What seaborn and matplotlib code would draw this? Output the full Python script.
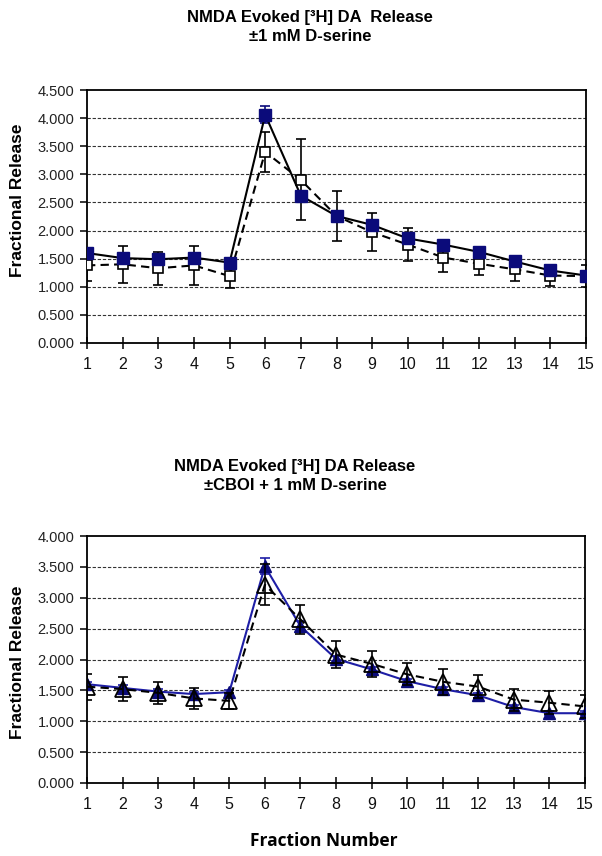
import numpy as np
import pandas as pd
import matplotlib
matplotlib.use("Agg")
import matplotlib.pyplot as plt
import seaborn as sns

sns.set_theme(style="white")
plt.rcParams['font.family'] = ['Liberation Sans', 'DejaVu Sans']
plt.rcParams['text.color'] = 'black'
plt.rcParams['axes.labelcolor'] = 'black'

fractions = list(range(1, 16))

# Top chart: NMDA +/- 1 mM D-serine
top_filled = [1.60, 1.51, 1.49, 1.52, 1.43, 4.06, 2.62, 2.26, 2.10, 1.86, 1.75, 1.62, 1.45, 1.29, 1.20]
top_filled_err = [0.05, 0.04, 0.04, 0.04, 0.04, 0.15, 0.06, 0.05, 0.05, 0.05, 0.04, 0.04, 0.04, 0.07, 0.05]
top_open = [1.38, 1.40, 1.33, 1.38, 1.19, 3.40, 2.90, 2.26, 1.97, 1.75, 1.52, 1.41, 1.31, 1.20, 1.19]
top_open_err = [0.28, 0.33, 0.29, 0.35, 0.22, 0.35, 0.72, 0.44, 0.34, 0.30, 0.25, 0.20, 0.20, 0.18, 0.19]

# Bottom chart: NMDA +/- CBOI + 1 mM D-serine
bot_filled = [1.60, 1.54, 1.48, 1.44, 1.47, 3.51, 2.54, 2.01, 1.84, 1.65, 1.52, 1.42, 1.23, 1.13, 1.13]
bot_filled_err = [0.04, 0.04, 0.04, 0.04, 0.04, 0.13, 0.08, 0.04, 0.04, 0.04, 0.04, 0.04, 0.04, 0.03, 0.03]
bot_open = [1.56, 1.52, 1.46, 1.37, 1.33, 3.21, 2.65, 2.08, 1.93, 1.76, 1.64, 1.56, 1.35, 1.30, 1.24]
bot_open_err = [0.21, 0.19, 0.18, 0.17, 0.13, 0.33, 0.23, 0.22, 0.21, 0.18, 0.21, 0.19, 0.18, 0.19, 0.18]

top_title = "NMDA Evoked [\u00b3H] DA  Release\n\u00b11 mM D-serine"
bot_title = "NMDA Evoked [\u00b3H] DA Release\n\u00b1CBOI + 1 mM D-serine"
ylabel = "Fractional Release"
xlabel = "Fraction Number"

NAVY = "#0B0B7A"
BLUE = "#1E1EA6"

fig = plt.figure(figsize=(6.02, 8.56), dpi=100)
W, H = 602, 856

def axes_px(l, t, r, b):
    return fig.add_axes([l / W, 1 - b / H, (r - l) / W, (b - t) / H])

ax1 = axes_px(87, 90, 586, 343)
ax2 = axes_px(87, 536, 585, 783)


def style_axes(ax, ymax):
    ax.set_xlim(1, 15)
    ax.set_ylim(0, ymax)
    yt = np.arange(0, ymax + 0.001, 0.5)
    ax.set_yticks(yt)
    ax.set_yticklabels([f"{v:.3f}" for v in yt], fontsize=10.5, color="#222222")
    ax.set_xticks(fractions)
    ax.set_xticklabels([str(f) for f in fractions], fontsize=11.5, color="#111111")
    for y in yt[1:-1]:
        ax.axhline(y, color="#333333", lw=0.8, ls=(0, (3, 1.6)), zorder=0.5)
    for s in ax.spines.values():
        s.set_color("black")
        s.set_linewidth(1.3)
    ax.tick_params(axis="y", direction="out", length=5, width=1.1, color="black", pad=4, left=True)
    ax.tick_params(axis="x", direction="inout", length=8, width=1.1, color="black", pad=6, bottom=True)
    ax.set_xlabel("")
    ax.set_ylabel("")
    ax.grid(False)
    ax.set_facecolor("white")


# ---- top chart ----
df_top = pd.DataFrame({"x": fractions * 2,
                       "y": top_open + top_filled,
                       "s": ["open"] * 15 + ["filled"] * 15})
ax1.errorbar(fractions, top_open, yerr=top_open_err, fmt="none", ecolor="black",
             elinewidth=1.2, capsize=3.5, capthick=1.2, zorder=2)
sns.lineplot(data=df_top[df_top.s == "open"], x="x", y="y", ax=ax1, color="black",
             lw=1.5, linestyle=(0, (4, 2.5)), marker="s", markersize=7.5,
             markerfacecolor="white", markeredgecolor="black", markeredgewidth=1.2, zorder=3)
ax1.errorbar(fractions, top_filled, yerr=top_filled_err, fmt="none", ecolor=NAVY,
             elinewidth=1.2, capsize=3.5, capthick=1.2, zorder=4)
sns.lineplot(data=df_top[df_top.s == "filled"], x="x", y="y", ax=ax1, color="black",
             lw=1.5, marker="s", markersize=9, markerfacecolor=NAVY,
             markeredgecolor=NAVY, markeredgewidth=1, zorder=5)
style_axes(ax1, 4.5)
ax1.set_ylabel(ylabel, fontsize=12.5, fontweight="bold", color="black")
ax1.yaxis.set_label_coords(-0.124, 0.565)

# ---- bottom chart ----
df_bot = pd.DataFrame({"x": fractions * 2,
                       "y": bot_filled + bot_open,
                       "s": ["filled"] * 15 + ["open"] * 15})
ax2.errorbar(fractions, bot_filled, yerr=bot_filled_err, fmt="none", ecolor=BLUE,
             elinewidth=1.2, capsize=3.5, capthick=1.2, zorder=2)
sns.lineplot(data=df_bot[df_bot.s == "filled"], x="x", y="y", ax=ax2, color=BLUE,
             lw=1.5, marker="^", markersize=8, markerfacecolor=NAVY,
             markeredgecolor=NAVY, markeredgewidth=1, zorder=3)
ax2.errorbar(fractions, bot_open, yerr=bot_open_err, fmt="none", ecolor="black",
             elinewidth=1.2, capsize=3.5, capthick=1.2, zorder=4)
sns.lineplot(data=df_bot[df_bot.s == "open"], x="x", y="y", ax=ax2, color="black",
             lw=1.5, linestyle=(0, (4, 2.5)), marker="^", markersize=11,
             markerfacecolor="none", markeredgecolor="black", markeredgewidth=1.3, zorder=5)
style_axes(ax2, 4.0)
ax2.set_ylabel(ylabel, fontsize=12.5, fontweight="bold", color="black")
ax2.yaxis.set_label_coords(-0.124, 0.49)
ax2.set_xlabel(xlabel, fontsize=12.5, fontweight="bold", color="black",
               family=["Open Sans", "DejaVu Sans"])
ax2.xaxis.set_label_coords(0.476, -0.2)

for a in (ax1, ax2):
    leg = a.get_legend()
    if leg is not None:
        leg.remove()

fig.text(310 / W, 1 - 27 / H, top_title, ha="center", va="center", fontsize=12,
         fontweight="bold", linespacing=1.35, color="black")
fig.text(295 / W, 1 - 476 / H, bot_title, ha="center", va="center", fontsize=12,
         fontweight="bold", linespacing=1.35, color="black")

fig.savefig("out.png", dpi=100, facecolor="white")
